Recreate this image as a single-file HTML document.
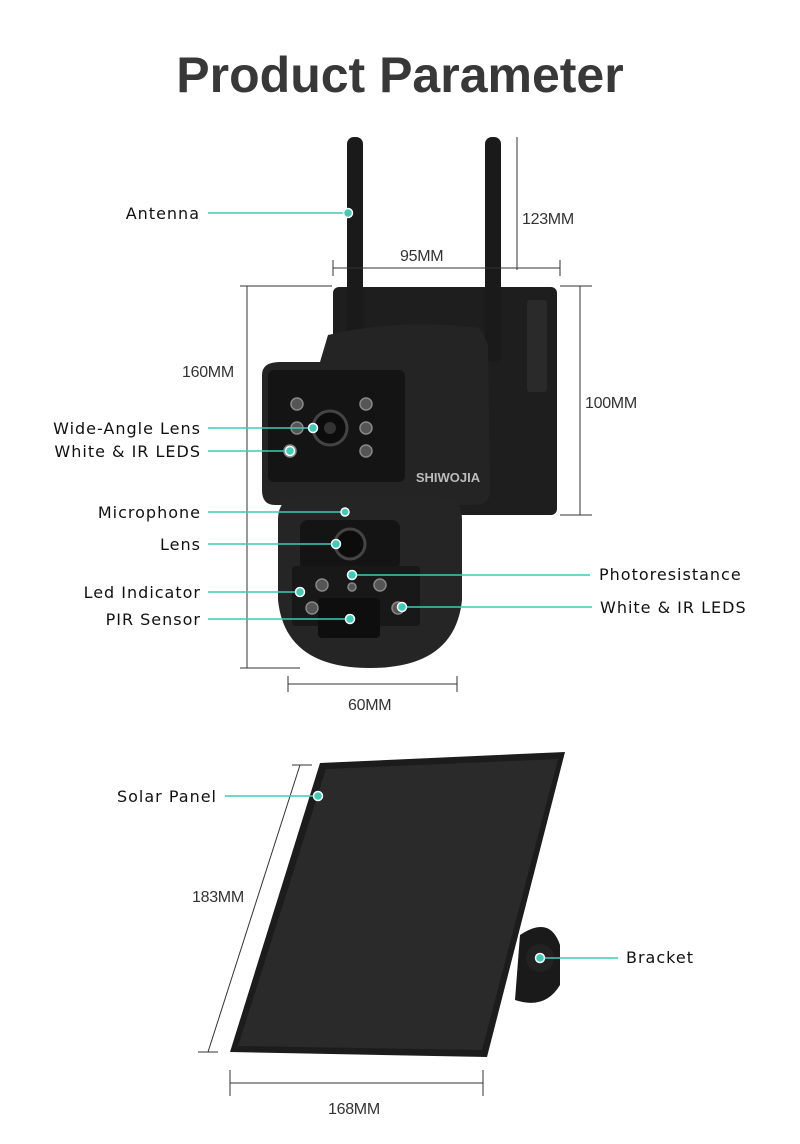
<!DOCTYPE html>
<html><head><meta charset="utf-8"><style>
html,body{margin:0;padding:0;background:#fff;}
svg{display:block;}
</style></head><body>
<svg width="800" height="1144" viewBox="0 0 800 1144" xmlns="http://www.w3.org/2000/svg" font-family="Liberation Sans, sans-serif">
<rect width="800" height="1144" fill="#fff"/>
<text x="400" y="92" text-anchor="middle" font-size="50" font-weight="bold" fill="#383838">Product Parameter</text>

<rect x="333" y="287" width="224" height="228" rx="6" fill="#1e1e1e"/>
<rect x="527" y="300" width="20" height="92" rx="3" fill="#2a2a2a"/>
<rect x="347" y="137" width="16" height="225" rx="7" fill="#1a1a1a"/>
<rect x="485" y="137" width="16" height="225" rx="7" fill="#1a1a1a"/>
<path d="M328 335 Q400 318 480 328 L488 345 L490 490 Q490 505 475 505 L275 505 Q262 505 262 490 L262 375 Q262 362 280 362 L320 362 Z" fill="#242424"/>
<rect x="268" y="370" width="137" height="112" rx="6" fill="#141414"/>
<text x="448" y="482" font-size="13" font-weight="bold" fill="#bbb" text-anchor="middle">SHIWOJIA</text>
<g fill="#555" stroke="#888" stroke-width="1.5">
<circle cx="297" cy="404" r="6"/><circle cx="297" cy="428" r="6"/><circle cx="290" cy="451" r="6"/>
<circle cx="366" cy="404" r="6"/><circle cx="366" cy="428" r="6"/><circle cx="366" cy="451" r="6"/>
</g>
<circle cx="330" cy="428" r="17" fill="#0c0c0c" stroke="#444" stroke-width="3"/>
<circle cx="330" cy="428" r="6" fill="#333"/>
<path d="M278 520 Q278 497 300 497 L440 497 Q462 497 462 520 L462 600 Q455 668 370 668 Q285 668 278 600 Z" fill="#252525"/>
<rect x="300" y="520" width="100" height="50" rx="8" fill="#141414"/>
<circle cx="350" cy="544" r="15" fill="#0c0c0c" stroke="#444" stroke-width="3"/>
<rect x="292" y="566" width="128" height="60" rx="4" fill="#181818"/>
<rect x="318" y="598" width="62" height="40" rx="4" fill="#0e0e0e"/>
<g fill="#555" stroke="#888" stroke-width="1.5">
<circle cx="322" cy="585" r="6"/><circle cx="380" cy="585" r="6"/><circle cx="312" cy="608" r="6"/><circle cx="398" cy="608" r="6"/><circle cx="352" cy="587" r="4"/>
</g>

<g stroke="#333" stroke-width="1" fill="none">
<line x1="517" y1="137" x2="517" y2="270"/>
<line x1="333" y1="268" x2="560" y2="268"/><line x1="333" y1="260" x2="333" y2="276"/><line x1="560" y1="260" x2="560" y2="276"/>
<line x1="247" y1="286" x2="247" y2="668"/><line x1="240" y1="286" x2="332" y2="286"/><line x1="240" y1="668" x2="300" y2="668"/>
<line x1="580" y1="286" x2="580" y2="515"/><line x1="560" y1="286" x2="592" y2="286"/><line x1="560" y1="515" x2="592" y2="515"/>
<line x1="288" y1="684" x2="457" y2="684"/><line x1="288" y1="676" x2="288" y2="692"/><line x1="457" y1="676" x2="457" y2="692"/>
<line x1="300" y1="765" x2="208" y2="1052"/><line x1="292" y1="765" x2="312" y2="765"/><line x1="198" y1="1052" x2="218" y2="1052"/>
<line x1="230" y1="1083" x2="483" y2="1083"/><line x1="230" y1="1070" x2="230" y2="1096"/><line x1="483" y1="1070" x2="483" y2="1096"/>
</g>
<g font-size="16" fill="#333" letter-spacing="-0.3">
<text x="522" y="224">123MM</text>
<text x="400" y="261">95MM</text>
<text x="182" y="377">160MM</text>
<text x="585" y="408">100MM</text>
<text x="348" y="710">60MM</text>
<text x="192" y="902">183MM</text>
<text x="328" y="1114">168MM</text>
</g>

<polygon points="320,763 565,752 487,1057 230,1052" fill="#1c1c1c"/>
<polygon points="326,769 558,759 482,1050 238,1046" fill="#2a2a2a"/>
<path d="M520 935 Q550 915 560 945 L560 985 Q545 1010 515 1000 Z" fill="#1a1a1a"/>
<circle cx="540" cy="958" r="14" fill="#222"/>

<g stroke="#3fcbb6" stroke-width="1.5">
<line x1="208" y1="213" x2="348" y2="213"/>
<line x1="208" y1="428" x2="313" y2="428"/>
<line x1="208" y1="451" x2="290" y2="451"/>
<line x1="208" y1="512" x2="345" y2="512"/>
<line x1="208" y1="544" x2="336" y2="544"/>
<line x1="208" y1="592" x2="300" y2="592"/>
<line x1="208" y1="619" x2="350" y2="619"/>
<line x1="352" y1="575" x2="590" y2="575"/>
<line x1="402" y1="607" x2="592" y2="607"/>
<line x1="225" y1="796" x2="318" y2="796"/>
<line x1="540" y1="958" x2="618" y2="958"/>
</g>
<g fill="#3fcbb6" stroke="#fff" stroke-width="1.5">
<circle cx="348" cy="213" r="4.5"/><circle cx="313" cy="428" r="4.5"/><circle cx="290" cy="451" r="4.5"/>
<circle cx="345" cy="512" r="4"/><circle cx="336" cy="544" r="4.5"/><circle cx="300" cy="592" r="4.5"/>
<circle cx="350" cy="619" r="4.5"/><circle cx="352" cy="575" r="4.5"/><circle cx="402" cy="607" r="4.5"/>
<circle cx="318" cy="796" r="4.5"/><circle cx="540" cy="958" r="4.5"/>
</g>
<g font-size="16" fill="#111" letter-spacing="1" font-family="DejaVu Sans, Liberation Sans, sans-serif">
<text x="200" y="219" text-anchor="end">Antenna</text>
<text x="201" y="434" text-anchor="end">Wide-Angle Lens</text>
<text x="201" y="457" text-anchor="end">White &amp; IR LEDS</text>
<text x="201" y="518" text-anchor="end">Microphone</text>
<text x="201" y="550" text-anchor="end">Lens</text>
<text x="201" y="598" text-anchor="end">Led Indicator</text>
<text x="201" y="625" text-anchor="end">PIR Sensor</text>
<text x="599" y="580">Photoresistance</text>
<text x="600" y="613">White &amp; IR LEDS</text>
<text x="217" y="802" text-anchor="end">Solar Panel</text>
<text x="626" y="963">Bracket</text>
</g>
</svg>
</body></html>
